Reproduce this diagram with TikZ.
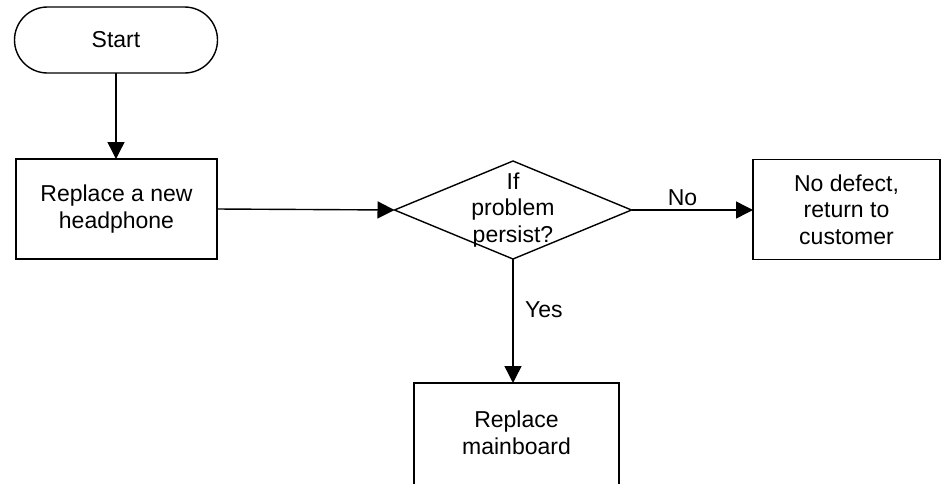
\documentclass[tikz,border=0pt]{standalone}
\usepackage{fontspec}
\setmainfont{Liberation Sans}
\usetikzlibrary{shapes.geometric,arrows.meta}
\tikzset{
  base/.style={font=\fontsize{23}{26.5}\selectfont, align=center, inner sep=0pt, outer sep=0pt},
  boxnode/.style={base, draw, line width=1.4pt, rectangle, minimum height=100pt},
  termnode/.style={base, draw, line width=1.4pt, rectangle, rounded corners=33pt, minimum width=203pt, minimum height=66pt},
  decnode/.style={draw, line width=1.4pt, diamond, inner sep=0pt, outer sep=0pt, minimum width=237pt, minimum height=98pt},
  conn/.style={line width=1.4pt, -{Triangle[length=17pt,width=17pt]}},
  lbl/.style={font=\fontsize{23}{26.5}\selectfont}
}
\begin{document}
\begin{tikzpicture}[x=1pt,y=-1pt]
\useasboundingbox (0,0) rectangle (941,483);
\node[termnode] (start) at (116,40) {Start};
\node[boxnode, minimum width=201pt] (b1) at (116.5,209) {Replace a new\\headphone};
\node[decnode] (dia) at (513,210) {};
\node[base] (dtext) at (513,210) {If\\problem\\persist?};
\node[boxnode, minimum width=187pt] (b3) at (846.5,209.5) {No defect,\\return to\\customer};
\node[base, minimum width=205pt, minimum height=100pt] (mb) at (516.5,433) {Replace\\mainboard};
\draw[line width=1.4pt] ([yshift=-20pt]mb.south west) |- (mb.north east) -- ([yshift=-20pt]mb.south east);
\draw[conn] (start.south) -- (start.south |- b1.north);
\draw[conn] (b1.east) -- (dia.west);
\draw[conn] (dia.east) -- node[lbl, pos=0.42, above] {No} (b3.west |- dia.east);
\draw[conn] (dia.south) -- node[lbl, pos=0.41, right=8pt] {Yes} (dia.south |- mb.north);
\end{tikzpicture}
\end{document}
